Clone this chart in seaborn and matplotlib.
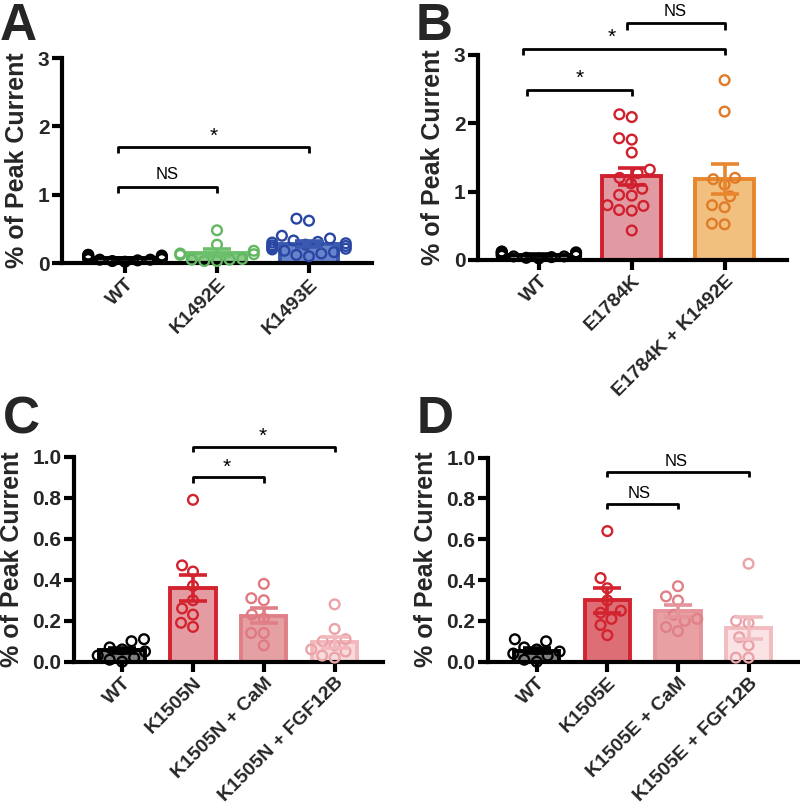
import numpy as np
import pandas as pd
import matplotlib
matplotlib.use("Agg")
import matplotlib.pyplot as plt
import seaborn as sns

sns.set_theme(style="ticks")
plt.rcParams["font.family"] = ["Liberation Sans", "DejaVu Sans"]

# ---------------- data ----------------
a_cats = ["WT", "K1492E", "K1493E"]
a_pts = {
    "WT": [0.05, 0.08, 0.10, 0.12, 0.07, 0.06, 0.11, 0.09, 0.04, 0.03, 0.10, 0.08, 0.06, 0.12, 0.05, 0.02],
    "K1492E": [0.48, 0.27, 0.18, 0.14, 0.12, 0.06, 0.05, 0.05, 0.03, 0.03, 0.13],
    "K1493E": [0.65, 0.62, 0.40, 0.36, 0.33, 0.31, 0.29, 0.27, 0.25, 0.23, 0.21, 0.18, 0.16, 0.14, 0.12, 0.10, 0.26, 0.30, 0.20],
}
a_mean = [0.07, 0.15, 0.28]
a_sem = [0.01, 0.05, 0.04]

b_cats = ["WT", "E1784K", "E1784K + K1492E"]
b_pts = {
    "WT": [0.05, 0.08, 0.10, 0.12, 0.07, 0.06, 0.11, 0.09, 0.04, 0.03, 0.10, 0.08, 0.06, 0.12, 0.05, 0.02],
    "E1784K": [2.13, 2.09, 1.78, 1.76, 1.57, 1.32, 1.27, 1.20, 1.12, 1.04, 0.94, 0.95, 0.80, 0.79, 0.73, 0.72, 0.43],
    "E1784K + K1492E": [2.63, 2.17, 1.20, 1.18, 1.10, 0.93, 0.80, 0.77, 0.53, 0.52],
}
b_mean = [0.07, 1.22, 1.18]
b_sem = [0.01, 0.12, 0.22]

c_cats = ["WT", "K1505N", "K1505N + CaM", "K1505N + FGF12B"]
c_pts = {
    "WT": [0.11, 0.10, 0.07, 0.06, 0.05, 0.03, 0.02, 0.01, 0.00],
    "K1505N": [0.79, 0.47, 0.44, 0.37, 0.30, 0.26, 0.23, 0.19, 0.17],
    "K1505N + CaM": [0.38, 0.31, 0.30, 0.23, 0.21, 0.14, 0.14, 0.08],
    "K1505N + FGF12B": [0.28, 0.16, 0.11, 0.10, 0.08, 0.06, 0.05, 0.03, 0.02],
}
c_mean = [0.055, 0.36, 0.225, 0.095]
c_sem = [0.012, 0.065, 0.038, 0.028]

d_cats = ["WT", "K1505E", "K1505E + CaM", "K1505E + FGF12B"]
d_pts = {
    "WT": [0.11, 0.10, 0.07, 0.06, 0.05, 0.04, 0.03, 0.01, 0.00],
    "K1505E": [0.64, 0.41, 0.36, 0.30, 0.25, 0.24, 0.21, 0.18, 0.13],
    "K1505E + CaM": [0.37, 0.32, 0.30, 0.23, 0.21, 0.20, 0.17, 0.15],
    "K1505E + FGF12B": [0.48, 0.20, 0.19, 0.12, 0.08, 0.02, 0.02],
}
d_mean = [0.055, 0.30, 0.25, 0.165]
d_sem = [0.012, 0.06, 0.03, 0.055]

# significance brackets: (x0, x1, y, label, label_x)
a_sig = [(-0.08, 1, 1.12, "NS", 0.46), (-0.08, 2, 1.70, "*", 0.96)]
b_sig = [(-0.13, 1, 2.49, "*", 0.44), (-0.17, 2, 3.09, "*", 0.78), (0.95, 2, 3.46, "NS", 1.47)]
c_sig = [(1, 2, 0.90, "*", 1.48), (1, 3, 1.05, "*", 1.98)]
d_sig = [(1, 2, 0.775, "NS", 1.45), (1, 3, 0.93, "NS", 1.98)]

# ---------------- styles ----------------
a_fill = ["#808080", "#8CCB89", "#6684CC"]
a_edge = ["#000000", "#6CBF6A", "#3A59AE"]
a_ptc = ["#000000", "#62B862", "#2A46A3"]
b_fill = ["#808080", "#E29AA2", "#F1C07F"]
b_edge = ["#000000", "#D0202E", "#E8862E"]
b_ptc = ["#000000", "#D0202E", "#E07B28"]
c_fill = ["#808080", "#E49CA2", "#E5A0A4", "#F8DADC"]
c_edge = ["#000000", "#D2232F", "#E07F86", "#F2B8BC"]
c_ptc = ["#000000", "#D2232F", "#E07A82", "#EBA3A8"]
d_fill = ["#808080", "#DE6E76", "#E8A0A3", "#FBE3E5"]
d_edge = ["#000000", "#D2232F", "#E5939A", "#F1BCC0"]
d_ptc = ["#000000", "#D2232F", "#E08088", "#EAA3A8"]

fig = plt.figure(figsize=(8, 8.07), dpi=100)


def panel(rect, cats, pts, means, sems, fills, edges, ptcols, ylim, yticks,
          ylabels, xlim, sig, letter, letter_xy, step):
    ax = fig.add_axes(rect)
    sns.barplot(x=cats, y=means, hue=cats, palette=fills, legend=False, ax=ax,
                width=0.64, errorbar=None, saturation=1, order=cats, zorder=1)
    for p, e in zip(ax.patches, edges):
        p.set_edgecolor(e)
        p.set_linewidth(2.8)
    df = pd.DataFrame([(c, v) for c in cats for v in pts[c]], columns=["g", "v"])
    nb = len(ax.collections)
    sns.swarmplot(data=df, x="g", y="v", hue="g", order=cats, hue_order=cats,
                  palette=ptcols, size=7, legend=False, ax=ax, zorder=3)
    for coll in ax.collections[nb:]:
        fc = coll.get_facecolors()
        coll.set_edgecolors(fc)
        coll.set_facecolors("none")
        coll.set_linewidth(1.7)
        coll.set_clip_on(False)
    for i, (m, s, e) in enumerate(zip(means, sems, edges)):
        ax.errorbar(i, m, yerr=s, ecolor=e, elinewidth=2.6, capsize=10,
                    capthick=2.6, fmt="none", zorder=4)
    for x0, x1, y, lab, lx in sig:
        h = step * 0.09
        ax.plot([x0, x0, x1, x1], [y - h, y, y, y - h], color="black", lw=2,
                clip_on=False, solid_capstyle="butt")
        if lab == "*":
            ax.text(lx, y + step * 0.16, lab, ha="center",
                    va="center", fontsize=15, color="black")
        else:
            ax.text(lx, y + step * 0.17, lab, ha="center",
                    va="center", fontsize=12, color="black")
    ax.set_xlim(*xlim)
    ax.set_ylim(*ylim)
    ax.set_yticks(yticks)
    ax.set_yticklabels(ylabels, fontsize=15, fontweight="bold")
    ax.set_xticks(range(len(cats)))
    ax.set_xticklabels(cats, rotation=45, ha="right", rotation_mode="anchor",
                       fontsize=14, fontweight="bold")
    ax.set_xlabel("")
    ax.set_ylabel("% of Peak Current", fontsize=18, fontweight="bold", labelpad=6)
    for side in ["top", "right"]:
        ax.spines[side].set_visible(False)
    for side in ["left", "bottom"]:
        ax.spines[side].set_linewidth(3)
        ax.spines[side].set_color("black")
    ax.tick_params(axis="both", width=3, length=7, color="black", pad=2)
    ax.set_facecolor("none")
    fig.text(letter_xy[0], letter_xy[1], letter, fontsize=37, fontweight="bold",
             va="baseline", ha="left")
    return ax


panel([0.0775, 0.674, 0.3875, 0.254], a_cats, a_pts, a_mean, a_sem, a_fill,
      a_edge, a_ptc, (0, 3), [0, 1, 2, 3], ["0", "1", "2", "3"],
      (-0.685, 2.685), a_sig, "A", (0.0, 1 - 40 / 807), 1.0)
panel([0.5975, 0.678, 0.386, 0.254], b_cats, b_pts, b_mean, b_sem, b_fill,
      b_edge, b_ptc, (0, 3), [0, 1, 2, 3], ["0", "1", "2", "3"],
      (-0.656, 2.67), b_sig, "B", (0.52, 1 - 40 / 807), 1.0)
yt = [0, 0.2, 0.4, 0.6, 0.8, 1.0]
ytl = ["0.0", "0.2", "0.4", "0.6", "0.8", "1.0"]
panel([0.0925, 0.180, 0.386, 0.254], c_cats, c_pts, c_mean, c_sem, c_fill,
      c_edge, c_ptc, (0, 1.0), yt, ytl, (-0.68, 3.68), c_sig, "C",
      (0.004, 1 - 433 / 807), 0.3)
panel([0.61, 0.180, 0.3875, 0.253], d_cats, d_pts, d_mean, d_sem, d_fill,
      d_edge, d_ptc, (0, 1.0), yt, ytl, (-0.69, 3.7), d_sig, "D",
      (0.521, 1 - 433 / 807), 0.3)

fig.savefig("out.png", dpi=100)
